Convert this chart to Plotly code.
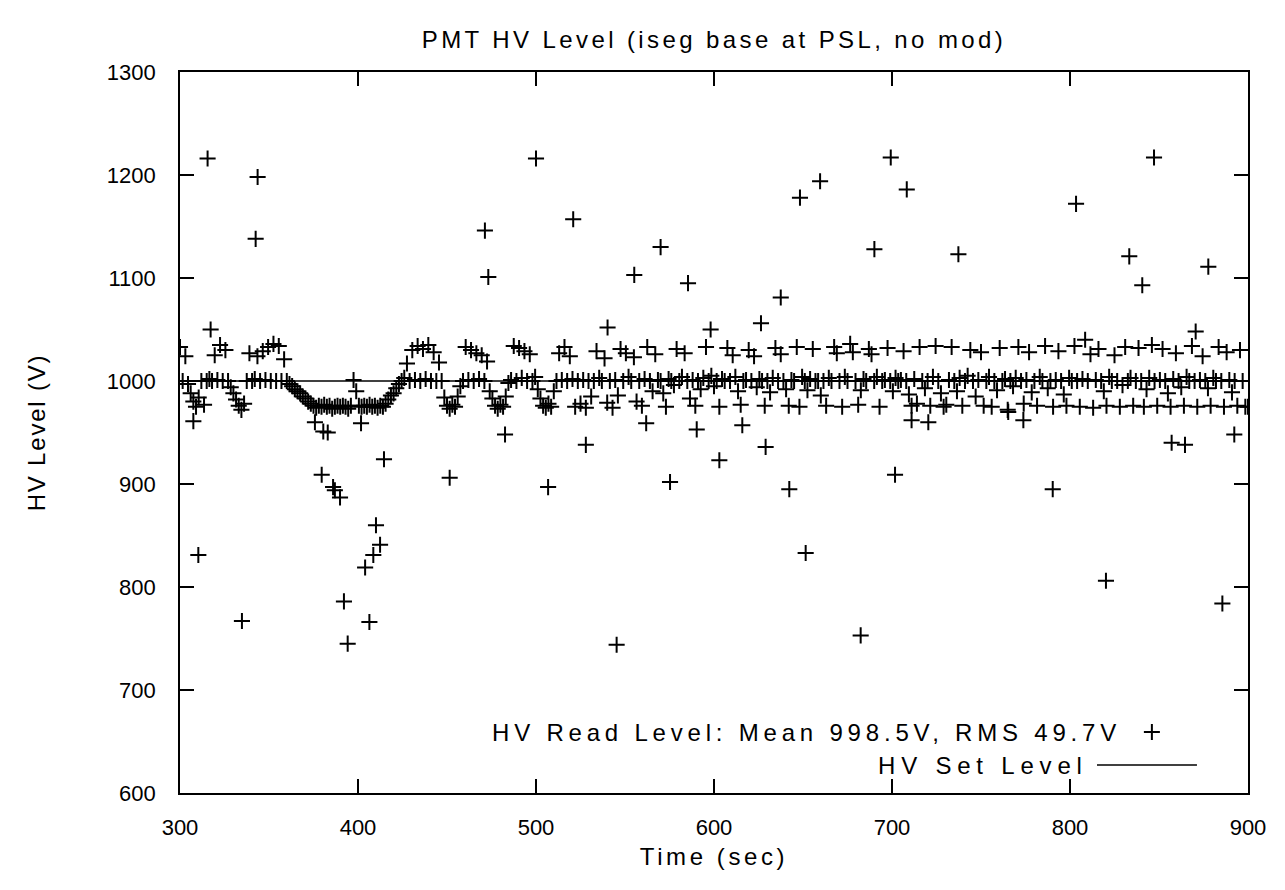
import plotly.graph_objects as go

# ---------------- data ----------------
# regular readback samples, one every 1.5 s from 300 s to 900 s
sample_start = 300.0
sample_step = 1.5
read_volt = [
    # 300 - 328.5
    1033, 1000, 1024, 997, 988, 980, 975, 984, 1000, 977, 1000, 1002, 1000, 1025, 1001, 1035, 1000, 1030, 1000, 994,
    # 330 - 358.5
    988, 982, 976, 972, 978, 1000, 1027, 1000, 1002, 1024, 1000, 1029, 1001, 1033, 1000, 1036, 1000, 1034, 1000, 1021,
    # 360 - 388.5
    1000, 997, 995, 992, 990, 988, 985, 983, 980, 978, 976, 974, 976, 975, 977, 975, 976, 973, 975, 976,
    # 390 - 418.5
    975, 976, 975, 973, 976, 1001, 990, 976, 975, 976, 975, 977, 975, 976, 974, 976, 975, 978, 982, 986,
    # 420 - 448.5
    988, 993, 997, 1000, 1003, 1017, 1000, 1030, 1001, 1034, 1000, 1031, 1002, 1035, 1000, 1028, 1000, 1018, 1000, 984,
    # 450 - 478.5
    976, 973, 977, 975, 985, 995, 1000, 1033, 1001, 1030, 1000, 1027, 1002, 1025, 1000, 1019, 990, 983, 976, 973,
    # 480 - 508.5
    977, 975, 985, 998, 1001, 1034, 1000, 1032, 1003, 1029, 1000, 1026, 1000, 1004, 992, 983, 976, 974, 978, 975,
    # 510 - 538.5
    990, 1000, 1027, 1001, 1033, 1000, 1024, 1002, 975, 1000, 978, 1001, 974, 1000, 985, 1000, 1029, 1003, 1000, 1022,
    # 540 - 568.5
    979, 1000, 974, 1001, 986, 1031, 1000, 1027, 1004, 1000, 1023, 980, 1000, 976, 1002, 1033, 1000, 990, 1026, 1001,
    # 570 - 598.5
    1000, 988, 975, 1002, 1000, 996, 1031, 1000, 1004, 1027, 1000, 983, 1001, 976, 1000, 992, 1003, 1033, 1000, 1005,
    # 600 - 628.5
    995, 1000, 975, 1002, 1000, 1032, 1000, 1025, 1004, 990, 977, 1000, 1001, 1030, 1000, 1024, 994, 1002, 1000, 976,
    # 630 - 658.5
    1000, 989, 1003, 1032, 1000, 1026, 1000, 992, 976, 1001, 1000, 1033, 975, 1004, 1000, 991, 1002, 1031, 1000, 1000,
    # 660 - 688.5
    986, 1000, 976, 1003, 1000, 1033, 1027, 1000, 975, 1004, 1000, 1036, 1028, 1000, 977, 991, 1002, 1000, 1031, 1026,
    # 690 - 718.5
    1000, 1004, 975, 1000, 1001, 1032, 1000, 990, 1003, 1000, 1001, 1029, 1000, 987, 976, 1002, 978, 1033, 1000, 993,
    # 720 - 748.5
    1000, 976, 1004, 1034, 1000, 988, 975, 977, 1001, 1033, 1000, 990, 1003, 976, 1000, 1005, 1030, 1000, 985, 1001,
    # 750 - 778.5
    1028, 976, 1000, 1004, 975, 1000, 991, 1032, 1000, 1002, 972, 1000, 995, 1003, 1033, 1000, 978, 1001, 1028, 989,
    # 780 - 808.5
    1000, 976, 1004, 1000, 1034, 993, 1000, 975, 1001, 1029, 1000, 987, 976, 1003, 1000, 1034, 1000, 975, 1002, 1040,
    # 810 - 838.5
    1000, 1026, 974, 1001, 1031, 1000, 990, 976, 1004, 1000, 1025, 1000, 975, 996, 1033, 1000, 1003, 976, 1000, 1032,
    # 840 - 868.5
    1000, 975, 992, 1003, 1035, 1000, 976, 1001, 1031, 1000, 988, 975, 1002, 1027, 1000, 994, 976, 1004, 1000, 1034,
    # 870 - 898.5
    1000, 975, 1001, 1024, 1000, 993, 976, 1003, 1000, 1033, 1000, 975, 1028, 1001, 989, 1000, 976, 1030, 1000, 975,
    # 900
    975,
]
read_time = [sample_start + sample_step * i for i in range(len(read_volt))]

# isolated excursions of the readback (time in s, level in V)
spike_time = [307.5, 310.3, 315.5, 317.2, 334.8, 342.5, 343.6, 375.8, 379.6, 380.5, 383.0, 386.0,
              387.0, 389.9, 392.1, 394.2, 401.7, 404.0, 406.4, 408.6, 410.1, 412.4, 414.6, 451.5,
              471.3, 473.2, 482.6, 500.0, 506.8, 520.9, 528.0, 540.2, 545.3, 555.2, 561.9, 570.0,
              575.3, 585.4, 590.3, 598.1, 603.0, 615.9, 626.4, 629.0, 637.5, 642.3, 648.3, 651.5,
              659.6, 682.4, 690.1, 699.3, 701.7, 708.3, 711.0, 720.4, 737.3, 765.3, 773.8, 790.3,
              803.4, 820.2, 833.3, 840.6, 847.2, 857.1, 864.6, 870.6, 877.7, 885.6, 892.3]
spike_volt = [961, 831, 1216, 1050, 767, 1138, 1198, 960, 909, 951, 950, 897,
              894, 887, 786, 745, 959, 819, 766, 831, 860, 841, 924, 906,
              1146, 1101, 948, 1216, 897, 1157, 938, 1052, 744, 1103, 959, 1130,
              902, 1095, 953, 1050, 923, 957, 1056, 936, 1081, 895, 1178, 833,
              1194, 753, 1128, 1217, 909, 1186, 962, 960, 1123, 970, 962, 895,
              1172, 806, 1121, 1093, 1217, 940, 938, 1048, 1111, 784, 948]

set_time = [300, 900]
set_volt = [1000, 1000]

read_label = "HV Read Level: Mean 998.5V, RMS 49.7V"
set_label = "HV Set Level"
title_text = "PMT HV Level (iseg base at PSL, no mod)"
x_title = "Time (sec)"
y_title = "HV Level (V)"
x_ticks = [300, 400, 500, 600, 700, 800, 900]
y_ticks = [600, 700, 800, 900, 1000, 1100, 1200, 1300]

# ---------------- figure ----------------
FONT = "Liberation Sans, Arial, sans-serif"
TXT = 24


def spaced(s, px):
    return '<span style="letter-spacing:%.1fpx">%s</span>' % (px, s)


all_t = read_time + spike_time
all_v = read_volt + spike_volt

fig = go.Figure()
fig.add_trace(go.Scatter(
    x=all_t, y=all_v, mode="markers", name=read_label, showlegend=False,
    marker=dict(symbol="cross-thin", size=11.5, color="black",
                line=dict(color="black", width=2)),
))
fig.add_trace(go.Scatter(
    x=set_time, y=set_volt, mode="lines", name=set_label, showlegend=False,
    line=dict(color="black", width=1.6),
))

axis_common = dict(
    showline=True, linecolor="black", linewidth=1.6, mirror="ticks",
    ticks="inside", ticklen=14, tickwidth=1.6, tickcolor="black",
    showgrid=False, zeroline=False,
    tickfont=dict(family=FONT, size=22, color="black"),
)

fig.update_xaxes(range=[300, 900], tickvals=x_ticks, ticklabelstandoff=14,
                 title=dict(text=spaced(x_title, 3.6), font=dict(family=FONT, size=TXT, color="black"), standoff=9),
                 **axis_common)
fig.update_yaxes(range=[600, 1300], tickvals=y_ticks, ticklabelstandoff=18,
                 title=dict(text=spaced(y_title, 1.8), font=dict(family=FONT, size=TXT, color="black"), standoff=54),
                 **axis_common)

# gnuplot-style key (text on the left, sample on the right), in paper coordinates
W, H = 1068.0, 721.0
annotations = [
    dict(text=spaced(read_label, 4.8), xref="paper", yref="paper", x=0.883, y=0.0846,
         xanchor="right", yanchor="middle", showarrow=False,
         font=dict(family=FONT, size=TXT, color="black")),
    dict(text=spaced(set_label, 5.8), xref="paper", yref="paper", x=0.852, y=0.0388,
         xanchor="right", yanchor="middle", showarrow=False,
         font=dict(family=FONT, size=TXT, color="black")),
]
px_x, px_y = 0.910, 0.0846
shapes = [
    dict(type="line", xref="paper", yref="paper", x0=px_x - 8 / W, x1=px_x + 8 / W, y0=px_y, y1=px_y,
         line=dict(color="black", width=2)),
    dict(type="line", xref="paper", yref="paper", x0=px_x, x1=px_x, y0=px_y - 8 / H, y1=px_y + 8 / H,
         line=dict(color="black", width=2)),
    dict(type="line", xref="paper", yref="paper", x0=0.8586, x1=0.9522, y0=0.0388, y1=0.0388,
         line=dict(color="black", width=1.6)),
]

FIG_W, FIG_H = 1277, 882
fig.update_layout(
    width=FIG_W, height=FIG_H,
    margin=dict(l=172, r=37, t=64, b=97, autoexpand=False),
    paper_bgcolor="white", plot_bgcolor="white",
    title=dict(text=spaced(title_text, 3.4), x=706 / FIG_W, xanchor="center", y=1 - 32 / FIG_H, yanchor="middle",
               font=dict(family=FONT, size=TXT, color="black")),
    annotations=annotations, shapes=shapes,
    showlegend=False,
)

fig.write_html("out.html")
